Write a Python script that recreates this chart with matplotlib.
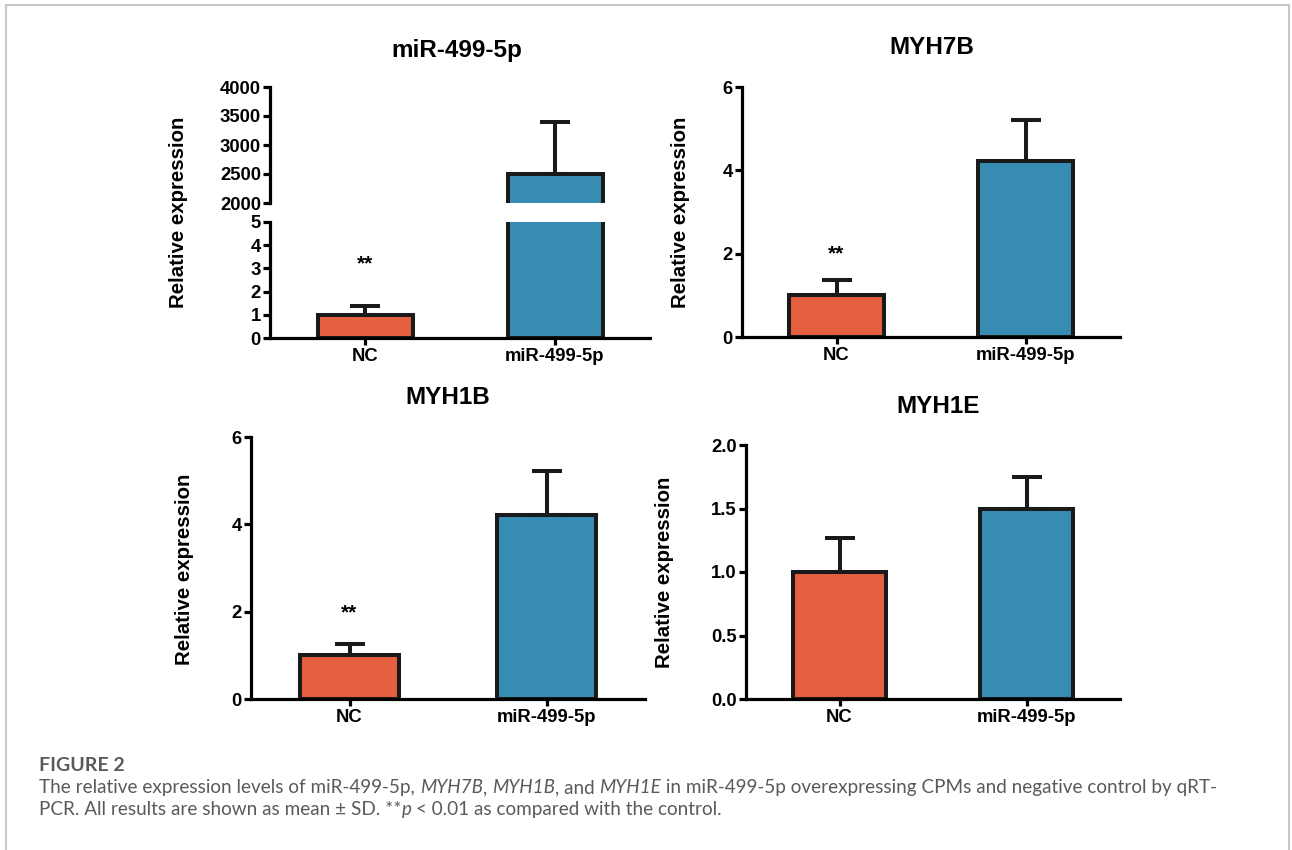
import matplotlib
matplotlib.use('Agg')
import matplotlib.pyplot as plt
from matplotlib.lines import Line2D

plt.rcParams['font.family'] = ['Liberation Sans', 'DejaVu Sans']
plt.rcParams['font.weight'] = 'bold'

# data
groups = ['NC', 'miR-499-5p']
mir_mean = [1.0, 2500.0]
mir_sd = [0.4, 900.0]
myh7b_mean = [1.0, 4.22]
myh7b_sd = [0.37, 1.0]
myh1b_mean = [1.0, 4.22]
myh1b_sd = [0.27, 1.0]
myh1e_mean = [1.0, 1.5]
myh1e_sd = [0.27, 0.25]

bar_colors = ['#E4603F', '#378CB3']
W, H = 1292, 850
LW = 2.3


def fbox(x0, y0, x1, y1):
    # pixel box (top-left origin) -> figure fraction rect
    return [x0 / W, 1 - y1 / H, (x1 - x0) / W, (y1 - y0) / H]


def px(x, y):
    return x / W, 1 - y / H


def style(ax, bottom=True):
    for s in ['top', 'right']:
        ax.spines[s].set_visible(False)
    ax.spines['left'].set_linewidth(LW)
    ax.spines['bottom'].set_linewidth(LW)
    ax.spines['bottom'].set_visible(bottom)
    ax.tick_params(axis='y', width=LW, length=5, labelsize=13.3, pad=1.5)
    ax.tick_params(axis='x', width=LW, length=5, labelsize=13.3, pad=2)
    ax.set_xlim(-0.5, 1.5)
    for t in ax.get_xticklabels() + ax.get_yticklabels():
        t.set_fontweight('bold')


def bars(ax, mean, sd):
    x = list(range(len(groups)))
    ax.errorbar(x, mean, yerr=[[0] * len(sd), sd], fmt='none', ecolor='#1a1a1a',
                elinewidth=LW + 0.6, capsize=11, capthick=LW + 0.6, zorder=1)
    ax.bar(x, mean, width=0.5, color=bar_colors, edgecolor='#1a1a1a',
           linewidth=LW + 0.6, zorder=2)
    ax.set_xticks(x)
    ax.set_xticklabels(groups)


def title(x, y, s):
    fig.text(*px(x, y), s, ha='center', va='center', fontsize=17.5, fontweight='bold')


def ylab(x, y):
    fig.text(*px(x, y), 'Relative expression', rotation=90, ha='center',
             va='center', fontsize=14.7, fontweight='bold')


def stars(ax, y):
    ax.text(0, y, '**', ha='center', va='center', fontsize=15, fontweight='bold')


fig = plt.figure(figsize=(W / 100, H / 100), dpi=100)

# panel 1: broken y axis
ax_top = fig.add_axes(fbox(270, 87, 650, 203))
ax_bot = fig.add_axes(fbox(270, 222, 650, 338))
bars(ax_top, mir_mean, mir_sd)
bars(ax_bot, mir_mean, mir_sd)
ax_top.set_ylim(2000, 4000)
ax_top.set_yticks([2000, 2500, 3000, 3500, 4000])
ax_bot.set_ylim(0, 5)
ax_bot.set_yticks([0, 1, 2, 3, 4, 5])
style(ax_top, bottom=False)
style(ax_bot)
ax_top.tick_params(axis='x', bottom=False, labelbottom=False)
title(457, 50, 'miR-499-5p')
stars(ax_bot, 3.2)
ylab(178, 212)

# panel 2
ax2 = fig.add_axes(fbox(742, 87, 1120, 337))
bars(ax2, myh7b_mean, myh7b_sd)
ax2.set_ylim(0, 6)
ax2.set_yticks([0, 2, 4, 6])
style(ax2)
title(932, 47, 'MYH7B')
stars(ax2, 2.0)
ylab(680, 212)

# panel 3
ax3 = fig.add_axes(fbox(251, 437, 645, 699))
bars(ax3, myh1b_mean, myh1b_sd)
ax3.set_ylim(0, 6)
ax3.set_yticks([0, 2, 4, 6])
style(ax3)
title(448, 398, 'MYH1B')
stars(ax3, 1.97)
ylab(185, 569)

# panel 4
ax4 = fig.add_axes(fbox(746, 445, 1120, 699))
bars(ax4, myh1e_mean, myh1e_sd)
ax4.set_ylim(0, 2.0)
ax4.set_yticks([0, 0.5, 1.0, 1.5, 2.0])
ax4.set_yticklabels(['0.0', '0.5', '1.0', '1.5', '2.0'])
style(ax4)
title(938, 407, 'MYH1E')
ylab(665, 572)

# frame around figure
frame = dict(color='#c8c8c8', linewidth=1.5, transform=fig.transFigure)
fig.add_artist(Line2D([6 / W, 6 / W], [0, 1 - 5 / H], **frame))
fig.add_artist(Line2D([6 / W, 1289 / W], [1 - 5 / H, 1 - 5 / H], **frame))
fig.add_artist(Line2D([1289 / W, 1289 / W], [0, 1 - 5 / H], **frame))

# caption
cap_color = '#5a5a5a'
cap_font = ['Lato', 'DejaVu Sans']
fig.text(*px(39, 771), 'FIGURE 2', fontsize=14, fontweight='bold',
         color=cap_color, family=cap_font, va='baseline')

renderer = fig.canvas.get_renderer()


def runs(x_px, y_px, pieces):
    x = x_px
    for txt, italic in pieces:
        t = fig.text(*px(x, y_px), txt, fontsize=13.6, fontweight='normal',
                     style='italic' if italic else 'normal', color=cap_color,
                     family=cap_font, va='baseline')
        bb = t.get_window_extent(renderer=renderer)
        x += bb.width


runs(39, 793, [('The relative expression levels of miR-499-5p, ', False), ('MYH7B', True),
               (', ', False), ('MYH1B', True), (', and ', False), ('MYH1E', True),
               (' in miR-499-5p overexpressing CPMs and negative control by qRT-', False)])
runs(39, 815, [('PCR. All results are shown as mean \u00b1 SD. **', False), ('p', True),
               (' < 0.01 as compared with the control.', False)])

fig.savefig('out.png', dpi=100)
